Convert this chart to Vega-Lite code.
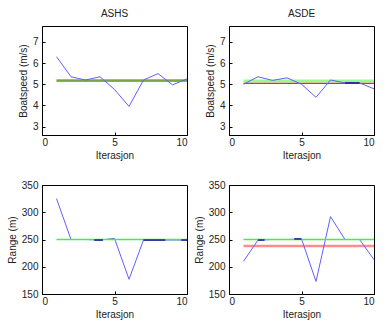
{
  "$schema": "https://vega.github.io/schema/vega-lite/v6.json",
  "padding": {"left": 6, "top": 8, "right": 0, "bottom": 0},
  "background": "white",
  "config": {
    "font": "Liberation Sans",
    "view": {"stroke": "black", "strokeWidth": 1},
    "axis": {"grid": false, "domainColor": "black", "tickColor": "black", "tickSize": -3, "labelFontSize": 10, "labelColor": "#222", "labelOverlap": false, "labelBound": false, "titleFontSize": 10, "titleFontWeight": "normal", "titleColor": "#222", "labelFont": "Liberation Sans", "titleFont": "Liberation Sans"},
    "axisX": {"labelPadding": 5, "titlePadding": 3},
    "axisY": {"labelPadding": 7, "titlePadding": 4},
    "title": {"fontSize": 10, "fontWeight": "normal", "font": "Liberation Sans", "color": "#222", "offset": 7}
  },
  "datasets": {
    "pts": [
      {"panel": "TL", "x": 1, "y": 6.3}, {"panel": "TL", "x": 2, "y": 5.35}, {"panel": "TL", "x": 3, "y": 5.2}, {"panel": "TL", "x": 4, "y": 5.35}, {"panel": "TL", "x": 5, "y": 4.75}, {"panel": "TL", "x": 6, "y": 3.95}, {"panel": "TL", "x": 7, "y": 5.2}, {"panel": "TL", "x": 8, "y": 5.5}, {"panel": "TL", "x": 9, "y": 4.97}, {"panel": "TL", "x": 10, "y": 5.25},
      {"panel": "TR", "x": 1, "y": 5.0}, {"panel": "TR", "x": 2, "y": 5.35}, {"panel": "TR", "x": 3, "y": 5.18}, {"panel": "TR", "x": 4, "y": 5.3}, {"panel": "TR", "x": 5, "y": 5.0}, {"panel": "TR", "x": 6, "y": 4.38}, {"panel": "TR", "x": 7, "y": 5.2}, {"panel": "TR", "x": 8, "y": 5.06}, {"panel": "TR", "x": 9, "y": 5.06}, {"panel": "TR", "x": 10, "y": 4.78},
      {"panel": "BL", "x": 1, "y": 325}, {"panel": "BL", "x": 2, "y": 250}, {"panel": "BL", "x": 3, "y": 250}, {"panel": "BL", "x": 4, "y": 249}, {"panel": "BL", "x": 5, "y": 252}, {"panel": "BL", "x": 6, "y": 177}, {"panel": "BL", "x": 7, "y": 249}, {"panel": "BL", "x": 8, "y": 249}, {"panel": "BL", "x": 9, "y": 249}, {"panel": "BL", "x": 10, "y": 249},
      {"panel": "BR", "x": 1, "y": 210}, {"panel": "BR", "x": 2, "y": 249}, {"panel": "BR", "x": 3, "y": 250}, {"panel": "BR", "x": 4, "y": 250}, {"panel": "BR", "x": 5, "y": 251}, {"panel": "BR", "x": 6, "y": 173}, {"panel": "BR", "x": 7, "y": 292}, {"panel": "BR", "x": 8, "y": 250}, {"panel": "BR", "x": 9, "y": 250}, {"panel": "BR", "x": 10, "y": 213}
    ],
    "refs": [
      {"panel": "TL", "series": "red", "x": 1, "x2": 10, "y": 5.21},
      {"panel": "TL", "series": "green", "x": 1, "x2": 10, "y": 5.15},
      {"panel": "TR", "series": "green", "x": 1, "x2": 10, "y": 5.15},
      {"panel": "TR", "series": "red", "x": 1, "x2": 10, "y": 5.04},
      {"panel": "BL", "series": "green", "x": 1, "x2": 10, "y": 250},
      {"panel": "BR", "series": "red", "x": 1, "x2": 10, "y": 238},
      {"panel": "BR", "series": "green", "x": 1, "x2": 10, "y": 250}
    ],
    "dark": [
      {"panel": "TR", "x": 8, "x2": 9, "y": 5.06},
      {"panel": "BL", "x": 3.6, "x2": 4.2, "y": 249},
      {"panel": "BL", "x": 7, "x2": 8.5, "y": 249},
      {"panel": "BL", "x": 9.6, "x2": 10, "y": 249},
      {"panel": "BR", "x": 2, "x2": 2.45, "y": 249},
      {"panel": "BR", "x": 4.5, "x2": 5, "y": 251}
    ]
  },
  "columns": 2,
  "spacing": {"row": 18, "column": 3},
  "concat": [
    {
      "title": "ASHS", "width": 145, "height": 109,
      "layer": [
        {"data": {"name": "refs"}, "transform": [{"filter": "datum.panel == 'TL' && datum.series == 'red'"}], "mark": {"type": "rule", "strokeWidth": 1.5, "color": "#ff8c8c"},
         "encoding": {"x": {"field": "x", "type": "quantitative", "scale": {"domain": [0, 10]}, "axis": {"values": [0, 5, 10], "tickCount": 3, "title": "Iterasjon"}}, "x2": {"field": "x2"}, "y": {"field": "y", "type": "quantitative", "scale": {"domain": [2.6, 7.75], "nice": false, "zero": false}, "axis": {"values": [3, 4, 5, 6, 7], "tickCount": 5, "title": "Boatspeed (m/s)"}}}},
        {"data": {"name": "refs"}, "transform": [{"filter": "datum.panel == 'TL' && datum.series == 'green'"}], "mark": {"type": "rule", "strokeWidth": 1.5, "color": "#4a9e1a"},
         "encoding": {"x": {"field": "x", "type": "quantitative"}, "x2": {"field": "x2"}, "y": {"field": "y", "type": "quantitative"}}},
        {"data": {"name": "pts"}, "transform": [{"filter": "datum.panel == 'TL'"}], "mark": {"type": "line", "color": "#6060ff", "strokeWidth": 1},
         "encoding": {"x": {"field": "x", "type": "quantitative"}, "y": {"field": "y", "type": "quantitative"}}}
      ]
    },
    {
      "title": "ASDE", "width": 145, "height": 109,
      "layer": [
        {"data": {"name": "refs"}, "transform": [{"filter": "datum.panel == 'TR' && datum.series == 'green'"}], "mark": {"type": "rule", "strokeWidth": 3, "color": "#90ff90"},
         "encoding": {"x": {"field": "x", "type": "quantitative", "scale": {"domain": [0, 10]}, "axis": {"values": [0, 5, 10], "tickCount": 3, "title": "Iterasjon"}}, "x2": {"field": "x2"}, "y": {"field": "y", "type": "quantitative", "scale": {"domain": [2.6, 7.75], "nice": false, "zero": false}, "axis": {"values": [3, 4, 5, 6, 7], "tickCount": 5, "title": "Boatspeed (m/s)"}}}},
        {"data": {"name": "refs"}, "transform": [{"filter": "datum.panel == 'TR' && datum.series == 'red'"}], "mark": {"type": "rule", "strokeWidth": 1.2, "color": "#ff2020"},
         "encoding": {"x": {"field": "x", "type": "quantitative"}, "x2": {"field": "x2"}, "y": {"field": "y", "type": "quantitative"}}},
        {"data": {"name": "pts"}, "transform": [{"filter": "datum.panel == 'TR'"}], "mark": {"type": "line", "color": "#6060ff", "strokeWidth": 1},
         "encoding": {"x": {"field": "x", "type": "quantitative"}, "y": {"field": "y", "type": "quantitative"}}},
        {"data": {"name": "dark"}, "transform": [{"filter": "datum.panel == 'TR'"}], "mark": {"type": "rule", "color": "#1a1aa0", "strokeWidth": 1.5},
         "encoding": {"x": {"field": "x", "type": "quantitative"}, "x2": {"field": "x2"}, "y": {"field": "y", "type": "quantitative"}}}
      ]
    },
    {
      "width": 145, "height": 109,
      "layer": [
        {"data": {"name": "pts"}, "transform": [{"filter": "datum.panel == 'BL'"}], "mark": {"type": "line", "color": "#6060ff", "strokeWidth": 1},
         "encoding": {"x": {"field": "x", "type": "quantitative", "scale": {"domain": [0, 10]}, "axis": {"values": [0, 5, 10], "tickCount": 3, "title": "Iterasjon"}}, "y": {"field": "y", "type": "quantitative", "scale": {"domain": [150, 350], "nice": false, "zero": false}, "axis": {"values": [150, 200, 250, 300, 350], "tickCount": 5, "title": "Range (m)"}}}},
        {"data": {"name": "refs"}, "transform": [{"filter": "datum.panel == 'BL'"}], "mark": {"type": "rule", "strokeWidth": 1.5, "color": "#44ee44"},
         "encoding": {"x": {"field": "x", "type": "quantitative"}, "x2": {"field": "x2"}, "y": {"field": "y", "type": "quantitative"}}},
        {"data": {"name": "dark"}, "transform": [{"filter": "datum.panel == 'BL'"}], "mark": {"type": "rule", "color": "#1a1aa0", "strokeWidth": 1.5},
         "encoding": {"x": {"field": "x", "type": "quantitative"}, "x2": {"field": "x2"}, "y": {"field": "y", "type": "quantitative"}}}
      ]
    },
    {
      "width": 145, "height": 109,
      "layer": [
        {"data": {"name": "refs"}, "transform": [{"filter": "datum.panel == 'BR' && datum.series == 'red'"}], "mark": {"type": "rule", "strokeWidth": 2.5, "color": "#ff8c8c"},
         "encoding": {"x": {"field": "x", "type": "quantitative", "scale": {"domain": [0, 10]}, "axis": {"values": [0, 5, 10], "tickCount": 3, "title": "Iterasjon"}}, "x2": {"field": "x2"}, "y": {"field": "y", "type": "quantitative", "scale": {"domain": [150, 350], "nice": false, "zero": false}, "axis": {"values": [150, 200, 250, 300, 350], "tickCount": 5, "title": "Range (m)"}}}},
        {"data": {"name": "pts"}, "transform": [{"filter": "datum.panel == 'BR'"}], "mark": {"type": "line", "color": "#6060ff", "strokeWidth": 1},
         "encoding": {"x": {"field": "x", "type": "quantitative"}, "y": {"field": "y", "type": "quantitative"}}},
        {"data": {"name": "refs"}, "transform": [{"filter": "datum.panel == 'BR' && datum.series == 'green'"}], "mark": {"type": "rule", "strokeWidth": 1.5, "color": "#44ee44"},
         "encoding": {"x": {"field": "x", "type": "quantitative"}, "x2": {"field": "x2"}, "y": {"field": "y", "type": "quantitative"}}},
        {"data": {"name": "dark"}, "transform": [{"filter": "datum.panel == 'BR'"}], "mark": {"type": "rule", "color": "#1a1aa0", "strokeWidth": 1.5},
         "encoding": {"x": {"field": "x", "type": "quantitative"}, "x2": {"field": "x2"}, "y": {"field": "y", "type": "quantitative"}}}
      ]
    }
  ]
}
